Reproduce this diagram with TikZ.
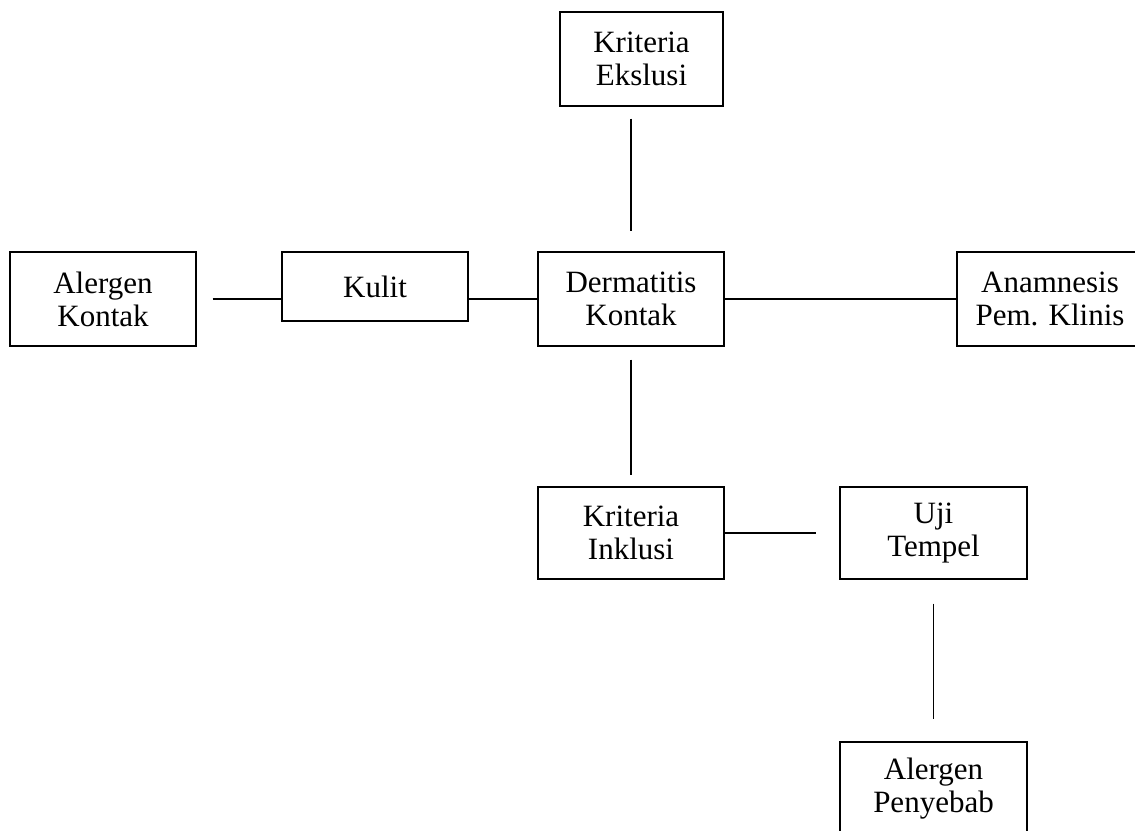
\documentclass[tikz,border=0pt]{standalone}
\usepackage{fontspec}
\setmainfont{Liberation Serif}
\usetikzlibrary{positioning}

\begin{document}
\begin{tikzpicture}[x=0.5pt,y=-0.5pt,every node/.style={font=\fontsize{15.5}{16.5}\selectfont},
  kotak/.style={draw,line width=.7pt,align=center,inner sep=0pt,minimum width=93pt,minimum height=47pt},
  garis/.style={line width=.7pt}]
\useasboundingbox (0,0) rectangle (1135,830);
\node[kotak] (alergenK) at (103,299) {Alergen\\Kontak};
\node[kotak,minimum height=34.5pt] (kulit) at (375,286.5) {Kulit};
\node[kotak] (derm) at (631,299) {Dermatitis\\Kontak};
\node[kotak] (anam) at (1050,299) {Anamnesis\\Pem. Klinis};
\node[kotak,minimum width=81.5pt] (eks) at (641.5,59) {Kriteria\\Ekslusi};
\node[kotak,minimum height=46pt] (ink) at (631,533) {Kriteria\\Inklusi};
\node[kotak,minimum height=46pt,minimum width=93.5pt] (uji) at (933.5,533) {Uji\\Tempel};
\node[kotak,minimum width=93.5pt] (penyebab) at (933.5,789) {Alergen\\Penyebab};
\draw[garis,shorten <=8pt] (alergenK.east) -- (alergenK.east -| kulit.west);
\draw[garis] (derm.west -| kulit.east) -- (derm.west);
\draw[garis] (derm.east) -- (anam.west);
\draw[garis,shorten <=6pt,shorten >=10pt] (derm.north |- eks.south) -- (derm.north);
\draw[garis,shorten <=6.5pt,shorten >=5.5pt] (derm.south) -- (ink.north);
\draw[garis,shorten >=11.5pt] (ink.east) -- (uji.west);
\draw[garis,shorten <=12pt,shorten >=11pt] (uji.south) -- (penyebab.north);
\end{tikzpicture}
\end{document}
